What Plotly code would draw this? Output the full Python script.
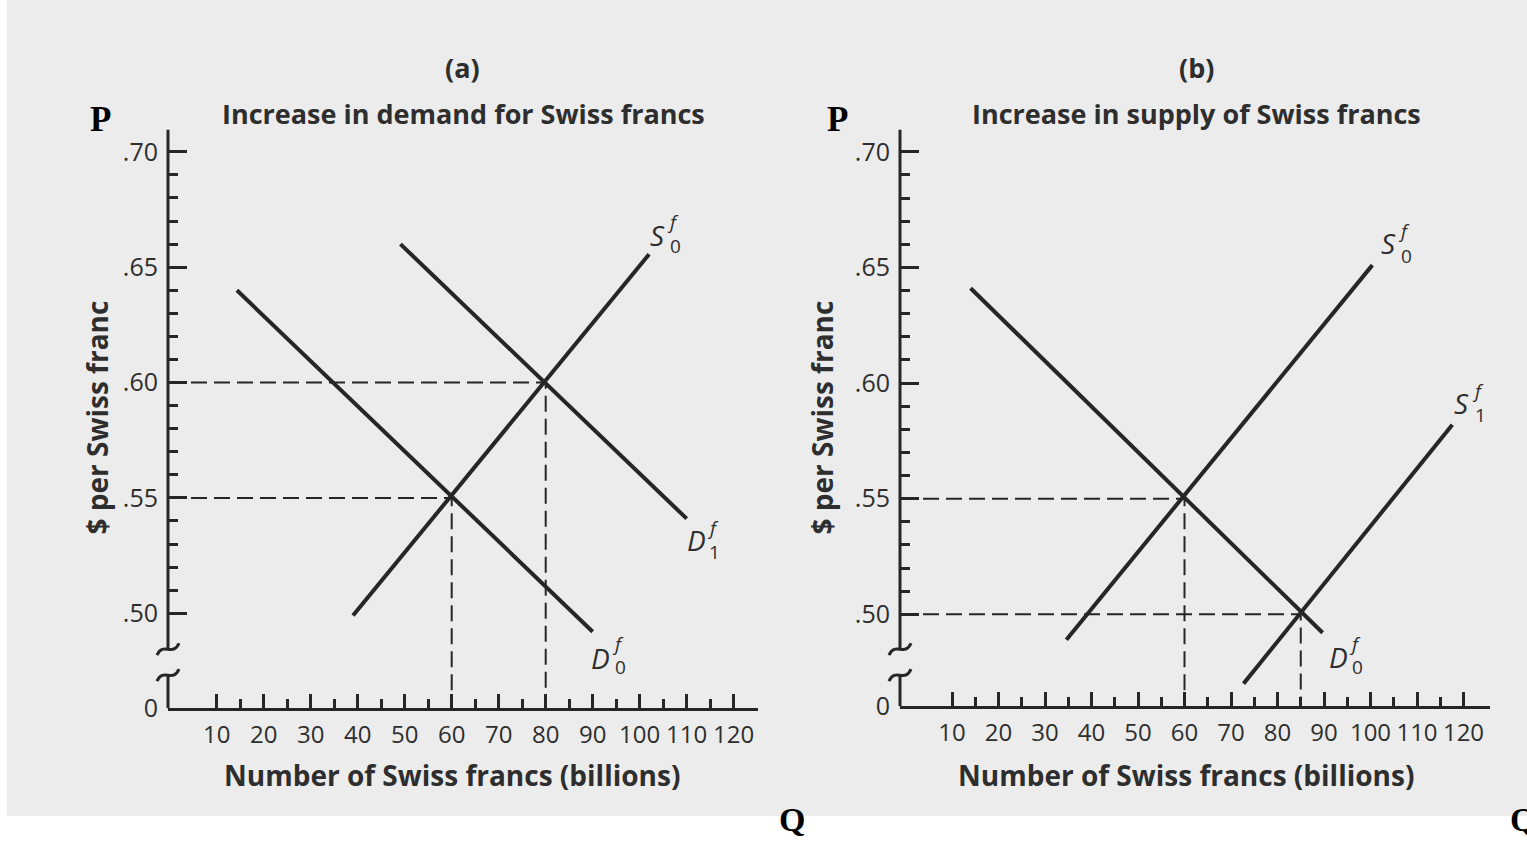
import plotly.graph_objects as go

# ---------------- data ----------------
q_major = [10, 20, 30, 40, 50, 60, 70, 80, 90, 100, 110, 120]
q_minor = [15, 25, 35, 45, 55, 65, 75, 85, 95, 105, 115]
p_major = [0.50, 0.55, 0.60, 0.65, 0.70]
p_major_text = [".50", ".55", ".60", ".65", ".70"]
p_minor = [0.51, 0.52, 0.53, 0.54, 0.56, 0.57, 0.58, 0.59,
           0.61, 0.62, 0.63, 0.64, 0.66, 0.67, 0.68, 0.69]

# panel (a): increase in demand
a_s0_q = [39, 102];    a_s0_p = [0.499, 0.6556]
a_d0_q = [14.3, 90];   a_d0_p = [0.640, 0.492]
a_d1_q = [49.1, 110];  a_d1_p = [0.660, 0.541]
a_eq_q = [60, 80];     a_eq_p = [0.55, 0.60]

# panel (b): increase in supply
b_d0_q = [14, 89.7];    b_d0_p = [0.641, 0.492]
b_s0_q = [34.6, 100.4]; b_s0_p = [0.489, 0.651]
b_s1_q = [72.7, 117.6]; b_s1_p = [0.470, 0.582]
b_eq_q = [60, 85];      b_eq_p = [0.55, 0.50]

W, H = 1527, 842
HEFF = 827.0   # rendered plotting height observed in the viewer
INK = "#262626"
TXT = "#2e2e2e"
FONT = "Open Sans"

def px(x):
    return x / W

def py(y):
    return 1 - y / HEFF

# pixel geometry of each panel
panels = {
    "a": dict(xl=168, xr=758, x0=169.7, xs=4.7, yb=709, yt=130, y50=614, y70=152),
    "b": dict(xl=900, xr=1490, x0=905.5, xs=4.65, yb=707, yt=130, y50=615, y70=152),
}
for g in panels.values():
    ys = (g["y50"] - g["y70"]) / 0.20
    g["xrange"] = [(g["xl"] - g["x0"]) / g["xs"], (g["xr"] - g["x0"]) / g["xs"]]
    g["yrange"] = [0.50 - (g["yb"] - g["y50"]) / ys, 0.70 + (g["y70"] - g["yt"]) / ys]

fig = go.Figure()

def add_panel(key, xa, ya, curves, eq_q, eq_p):
    g = panels[key]
    xmin, ymin = g["xrange"][0], g["yrange"][0]
    for q, p in zip(eq_q, eq_p):
        fig.add_trace(go.Scatter(x=[xmin, q, q], y=[p, p, ymin], mode="lines",
                                 line=dict(color=INK, width=2, dash="16px,7px"),
                                 xaxis=xa, yaxis=ya, showlegend=False, hoverinfo="skip"))
    for q, p in curves:
        fig.add_trace(go.Scatter(x=q, y=p, mode="lines",
                                 line=dict(color=INK, width=4),
                                 xaxis=xa, yaxis=ya, showlegend=False, hoverinfo="skip"))

add_panel("a", "x", "y", [(a_s0_q, a_s0_p), (a_d0_q, a_d0_p), (a_d1_q, a_d1_p)], a_eq_q, a_eq_p)
add_panel("b", "x2", "y2", [(b_d0_q, b_d0_p), (b_s0_q, b_s0_p), (b_s1_q, b_s1_p)], b_eq_q, b_eq_p)

def xaxis_cfg(g, anchor):
    return dict(domain=[px(g["xl"]), px(g["xr"])], range=g["xrange"], anchor=anchor,
                showline=True, linecolor=INK, linewidth=3, showgrid=False, zeroline=False,
                tickmode="array", tickvals=q_major, ticktext=[str(v) for v in q_major],
                ticks="inside", ticklen=14, tickwidth=2.5, tickcolor=INK, tickangle=0,
                minor=dict(tickmode="array", tickvals=q_minor, ticks="inside",
                           ticklen=9, tickwidth=2.5, tickcolor=INK, showgrid=False),
                tickfont=dict(family=FONT, size=24, color=TXT), ticklabelstandoff=3,
                fixedrange=True)

def yaxis_cfg(g, anchor):
    return dict(domain=[py(g["yb"]), py(g["yt"])], range=g["yrange"], anchor=anchor,
                showline=False, showgrid=False, zeroline=False,
                tickmode="array", tickvals=[g["yrange"][0] + 1e-5] + p_major,
                ticktext=["0"] + p_major_text,
                ticks="inside", ticklen=19, tickwidth=2.5, tickcolor=INK,
                minor=dict(tickmode="array", tickvals=p_minor, ticks="inside",
                           ticklen=10, tickwidth=2.5, tickcolor=INK, showgrid=False),
                tickfont=dict(family=FONT, size=25, color=TXT), ticklabelstandoff=9,
                fixedrange=True)

fig.update_layout(
    width=W, height=H, autosize=False, margin=dict(l=0, r=0, t=0, b=0, pad=0),
    paper_bgcolor="white", plot_bgcolor="rgba(0,0,0,0)",
    xaxis=xaxis_cfg(panels["a"], "y"), yaxis=yaxis_cfg(panels["a"], "x"),
    xaxis2=xaxis_cfg(panels["b"], "y2"), yaxis2=yaxis_cfg(panels["b"], "x2"),
)

shapes = [dict(type="rect", xref="paper", yref="paper", x0=px(7), x1=1, y0=py(817), y1=1.05,
               fillcolor="#ececec", line=dict(width=0), layer="below")]

def seg(x0, y0, x1, y1):
    return dict(type="line", xref="paper", yref="paper", x0=px(x0), y0=py(y0), x1=px(x1), y1=py(y1),
                line=dict(color=INK, width=3))

def tilde(cx, cy):
    pts = [(cx - 11, cy + 6), (cx - 5, cy - 8), (cx + 5, cy + 8), (cx + 11, cy - 6)]
    d = "M {},{} C {},{} {},{} {},{}".format(*sum([[px(a), py(b)] for a, b in pts], []))
    return dict(type="path", xref="paper", yref="paper", path=d, line=dict(color=INK, width=3))

for g in panels.values():
    x = g["xl"]
    shapes.append(seg(x, g["yt"], x, 650))
    shapes.append(tilde(x, 650))
    shapes.append(tilde(x, 676))
    shapes.append(seg(x, 676, x, g["yb"]))

fig.update_layout(shapes=shapes)

ann = []

def text(x, y, s, size, weight=700, family=FONT, angle=0, color=TXT, xanchor="center"):
    ann.append(dict(x=px(x), y=py(y), xref="paper", yref="paper", text=s, showarrow=False,
                    xanchor=xanchor, yanchor="middle", textangle=angle, borderpad=0,
                    font=dict(family=family, size=size, color=color, weight=weight)))

# titles
text(462, 68, "(a)", 27)
text(463, 114, "Increase in demand for Swiss francs", 27)
text(1196, 68, "(b)", 27)
text(1196, 114, "Increase in supply of Swiss francs", 27)
# axis titles
for cx in (452, 1186):
    text(cx, 776, "Number of Swiss francs (billions)", 28)
for cx in (97, 822):
    text(cx, 418, "$ per Swiss franc", 28, angle=-90)
# P / Q markers
serif = "Liberation Serif"
text(100, 120, "P", 35, family=serif, color="black")
text(837, 120, "P", 35, family=serif, color="black")
text(792, 820, "Q", 34, family=serif, color="black")
text(1523, 820, "Q", 34, family=serif, color="black")

def curve_label(letter, sub, lx, ly, fx, fy, sx, sy):
    text(lx, ly, "<i>" + letter + "</i>", 28, weight=400)
    text(fx, fy, "<i>f</i>", 19, weight=400)
    text(sx, sy, sub, 19, weight=400)

curve_label("S", "0", 657, 235, 673, 222, 675, 246)
curve_label("D", "1", 696, 541, 713, 529, 714, 553)
curve_label("D", "0", 600, 659, 618, 645, 620, 668)
curve_label("S", "0", 1388, 243, 1404, 231, 1406, 256)
curve_label("S", "1", 1461, 403, 1478, 391, 1480, 416)
curve_label("D", "0", 1338, 658, 1355, 645, 1357, 668)

fig.update_layout(annotations=ann)

fig.write_html("out.html", config={"responsive": False, "displayModeBar": False},
               post_script="document.body.style.margin='0px';")
